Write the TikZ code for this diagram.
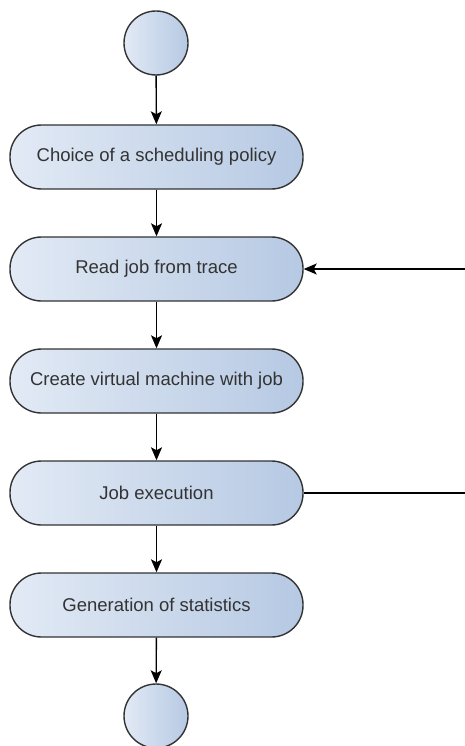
\documentclass[tikz,border=0pt]{standalone}
\usepackage{fontspec}
\setmainfont{Liberation Sans}
\usetikzlibrary{arrows.meta}
\definecolor{actlight}{HTML}{E2EAF5}
\definecolor{actdark}{HTML}{B6C9E3}
\definecolor{actline}{HTML}{333333}
\begin{document}
\begin{tikzpicture}[x=1pt, y=-1pt,
  activity/.style={draw=actline, line width=1.4pt, rounded corners=31.5pt,
    left color=actlight, right color=actdark, minimum width=293pt,
    minimum height=64pt, text=actline, font=\fontsize{18.5}{20}\selectfont},
  terminal/.style={circle, draw=actline, line width=1.4pt,
    left color=actlight, right color=actdark, minimum size=64pt},
  flow/.style={line width=1.4pt, -{Stealth[length=13pt, width=11pt, inset=3pt]}}]
  \useasboundingbox (0,0) rectangle (465,746);
  \node[terminal] (start) at (156,43) {};
  \node[activity] (policy) at (156.5,157) {Choice of a scheduling policy};
  \node[activity] (read) at (156.5,269) {Read job from trace};
  \node[activity] (create) at (156.5,381) {Create virtual machine with job};
  \node[activity] (exec) at (156.5,493) {Job execution};
  \node[activity] (stats) at (156.5,605) {Generation of statistics};
  \node[terminal] (stop) at (156,716) {};
  \coordinate (loopin) at (465,269);
  \coordinate (loopout) at (465,493);
  \draw[flow] (start) -- (policy);
  \draw[flow] (policy) -- (read);
  \draw[flow] (read) -- (create);
  \draw[flow] (create) -- (exec);
  \draw[flow] (exec) -- (stats);
  \draw[flow] (stats) -- (stop);
  \draw[flow] (loopin) -- (read);
  \draw[line width=1.4pt] (exec) -- (loopout);
\end{tikzpicture}
\end{document}
